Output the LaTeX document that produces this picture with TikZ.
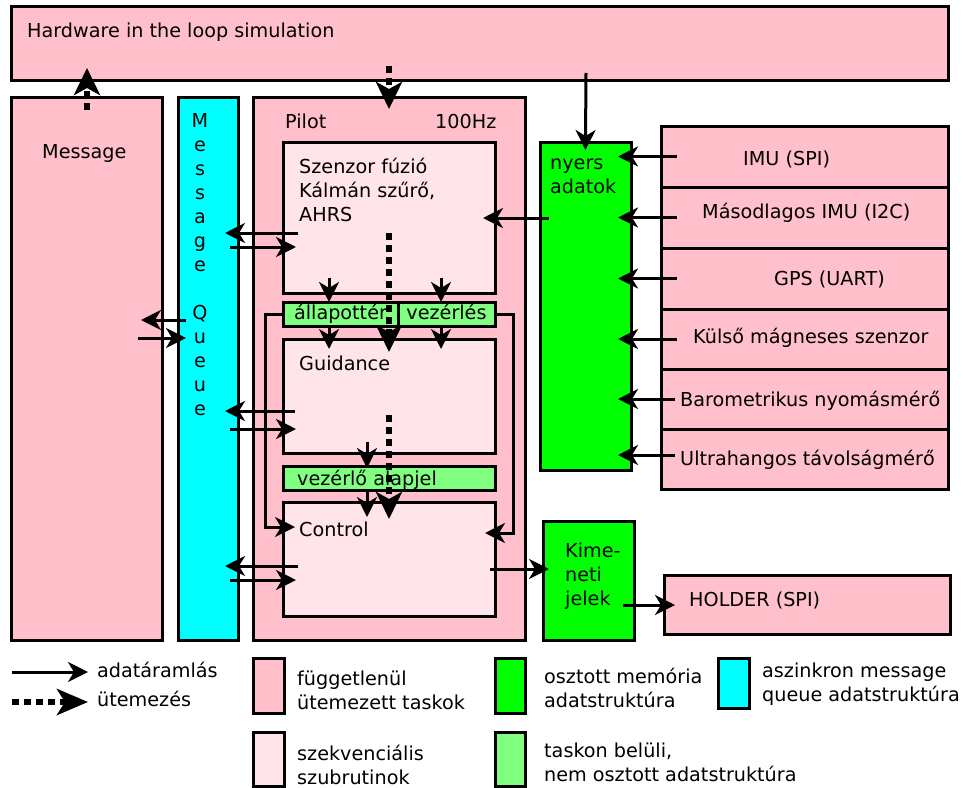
\documentclass[tikz,border=0pt]{standalone}
\usepackage{fontspec}
\setmainfont{DejaVu Sans}
\usetikzlibrary{arrows.meta,calc}
\definecolor{taskpink}{HTML}{FFC0CB}
\definecolor{subpink}{HTML}{FFE4E9}
\definecolor{shmgreen}{HTML}{00FF00}
\definecolor{locgreen}{HTML}{80FF80}
\definecolor{queuecyan}{HTML}{00FFFF}

\begin{document}
\begin{tikzpicture}[x=1pt, y=-1pt,
  font=\fontsize{19.2}{24}\selectfont,
  box/.style={rectangle, draw, line width=3pt, fill=#1, inner sep=0pt, outer sep=0pt},
  strip/.style={box=locgreen, text height=14pt, text depth=4pt},
  txt/.style={anchor=base west, inner sep=0pt, align=left},
  flow/.style={-{Stealth[length=20pt, width=20pt, inset=6pt]}, line width=3pt, shorten >=-10pt},
  sched/.style={-{Stealth[length=27pt, width=26pt, inset=7pt]}, line width=6pt, dash pattern=on 7pt off 5pt, shorten >=-12pt}
]
  \useasboundingbox (0,0) rectangle (963,787);

  % tasks and data
  \node[box=taskpink, minimum width=937pt, minimum height=74pt] (hil) at (479.5,43) {};
  \node[box=taskpink, minimum width=151pt, minimum height=543pt] (msg) at (86.5,368.5) {};
  \node[box=queuecyan, minimum width=60pt, minimum height=543pt] (queue) at (208,368.5) {};
  \node[box=taskpink, minimum width=272pt, minimum height=543pt] (pilot) at (389,368.5) {};
  \node[box=subpink, minimum width=212pt, minimum height=151pt] (fusion) at (389,217.5) {};
  \node[strip, minimum width=115pt, minimum height=24pt] (state) at (340.5,314) {állapottér};
  \node[strip, minimum width=97pt, minimum height=24pt] (cmd) at (446.5,314) {vezérlés};
  \node[box=subpink, minimum width=212pt, minimum height=114pt] (guid) at (389,396) {};
  \node[box=locgreen, minimum width=212pt, minimum height=24pt] (setp) at (389,478) {};
  \node[box=subpink, minimum width=212pt, minimum height=114pt] (ctrl) at (389,559) {};
  \node[box=shmgreen, minimum width=91pt, minimum height=328pt] (raw) at (585.5,306) {};
  \node[box=shmgreen, minimum width=91pt, minimum height=119pt] (out) at (588.5,580.5) {};

  % sensors
  \node[box=taskpink, minimum width=287pt, minimum height=61pt] (imu) at (804.5,156.5) {};
  \node[box=taskpink, minimum width=287pt, minimum height=61pt] (imu2) at (804.5,217.5) {};
  \node[box=taskpink, minimum width=287pt, minimum height=61pt] (gps) at (804.5,278.5) {};
  \node[box=taskpink, minimum width=287pt, minimum height=60pt] (mag) at (804.5,339) {};
  \node[box=taskpink, minimum width=287pt, minimum height=60pt] (baro) at (804.5,399) {};
  \node[box=taskpink, minimum width=287pt, minimum height=60pt] (sonar) at (804.5,459) {};
  \node[box=taskpink, minimum width=286pt, minimum height=59pt] (holder) at (807,604.5) {};

  % legend
  \node[box=taskpink, minimum width=31pt, minimum height=55pt] (lg-task) at (268.5,685.5) {};
  \node[box=subpink, minimum width=31pt, minimum height=54pt] (lg-sub) at (268.5,759) {};
  \node[box=shmgreen, minimum width=30pt, minimum height=55pt] (lg-shm) at (510,685.5) {};
  \node[box=locgreen, minimum width=30pt, minimum height=54pt] (lg-loc) at (510,759) {};
  \node[box=queuecyan, minimum width=31pt, minimum height=50pt] (lg-queue) at (733.5,683) {};

  % texts (base = last line)
  \node[txt] (t-hil) at (27,37) {Hardware in the loop simulation};
  \node[txt] (t-msg) at (42,158) {Message};
  \node[anchor=base, inner sep=0pt, align=center] (t-queue) at (200,415) {M\\e\\s\\s\\a\\g\\e\\[24pt]Q\\u\\e\\u\\e};
  \node[txt] (t-pilot) at (285,128) {Pilot};
  \node[txt] (t-rate) at (435,128) {100Hz};
  \node[txt] (t-fusion) at (299,221) {Szenzor fúzió\\Kálmán szűrő,\\AHRS};
  \node[txt] (t-guid) at (299,370) {Guidance};
  \node[txt] (t-setp) at (297,485) {vezérlő alapjel};
  \node[txt] (t-ctrl) at (299,536) {Control};
  \node[txt] (t-raw) at (550,193) {nyers\\adatok};
  \node[txt] (t-out) at (565,605) {Kime-\\neti\\jelek};
  \node[txt] (t-imu) at (743,165) {IMU (SPI)};
  \node[txt] (t-imu2) at (702,218) {Másodlagos IMU (I2C)};
  \node[txt] (t-gps) at (774,285) {GPS (UART)};
  \node[txt] (t-mag) at (693,343) {Külső mágneses szenzor};
  \node[txt] (t-baro) at (680,406) {Barometrikus nyomásmérő};
  \node[txt] (t-sonar) at (680,465) {Ultrahangos távolságmérő};
  \node[txt] (t-holder) at (689,606) {HOLDER (SPI)};
  \node[txt] (t-flow) at (97,677) {adatáramlás};
  \node[txt] (t-sched) at (97,706) {ütemezés};
  \node[txt] (t-task) at (297,709) {függetlenül\\ütemezett taskok};
  \node[txt] (t-sub) at (297,784) {szekvenciális\\szubrutinok};
  \node[txt] (t-shm) at (544,707) {osztott memória\\adatstruktúra};
  \node[txt] (t-queue2) at (762,701) {aszinkron message\\queue adatstruktúra};
  \node[txt] (t-loc) at (544,781) {taskon belüli,\\nem osztott adatstruktúra};

  % free ends
  \coordinate (s-raw) at (586,73);
  \coordinate (s-pilot) at (389,66);
  \coordinate (s-msg) at (87,110);
  \coordinate (q-l) at (186,320);
  \coordinate (q-r) at (138,338);
  \coordinate (f-l) at (298,233);
  \coordinate (f-r) at (230,247);
  \coordinate (g-l) at (295,411);
  \coordinate (g-r) at (230,429);
  \coordinate (c-l) at (298,566);
  \coordinate (c-r) at (230,580);
  \coordinate (r-f) at (549,218);
  \coordinate (fs-a) at (329,278);
  \coordinate (fs-b) at (441,278);
  \coordinate (gs) at (367,442);
  \coordinate (d-1) at (389,233);
  \coordinate (d-2) at (389,415);
  \coordinate (lp-l) at (265,527);
  \coordinate (lp-r) at (513,533);
  \coordinate (c-o) at (490,569);
  \coordinate (o-h) at (623,605);
  \coordinate (l-flow) at (12,672);
  \coordinate (l-flow2) at (88,672);
  \coordinate (l-sched) at (12,702);
  \coordinate (l-sched2) at (88,702);

  % scheduling
  \draw[sched] (s-pilot) -- (pilot.north);
  \draw[sched] (s-msg) -- (s-msg |- hil.south);
  \draw[sched, shorten >=-13pt] (d-1) -- (guid.north -| d-1);
  \draw[sched, shorten >=-17pt] (d-2) -- (ctrl.north -| d-2);

  % data flow
  \draw[flow, shorten >=-8pt] (s-raw) -- (raw.north);
  \draw[flow, shorten >=-21pt] (q-l) -- (msg.east |- q-l);
  \draw[flow, shorten >=-8pt] (q-r) -- (queue.west |- q-r);
  \draw[flow, shorten >=-13pt] (f-l) -- (queue.east |- f-l);
  \draw[flow, shorten >=-13pt] (f-r) -- (fusion.west |- f-r);
  \draw[flow, shorten >=-13pt] (g-l) -- (queue.east |- g-l);
  \draw[flow, shorten >=-13pt] (g-r) -- (guid.west |- g-r);
  \draw[flow, shorten >=-13pt] (c-l) -- (queue.east |- c-l);
  \draw[flow, shorten >=-13pt] (c-r) -- (ctrl.west |- c-r);
  \draw[flow, shorten >=-12pt] (r-f) -- (fusion.east |- r-f);
  \draw[flow, shorten >=-13pt] ([xshift=16pt]imu.west) -- (raw.east |- imu.west);
  \draw[flow, shorten >=-13pt] ([xshift=16pt]imu2.west) -- (raw.east |- imu2.west);
  \draw[flow, shorten >=-13pt] ([xshift=16pt]gps.west) -- (raw.east |- gps.west);
  \draw[flow, shorten >=-13pt] ([xshift=16pt]mag.west) -- (raw.east |- mag.west);
  \draw[flow, shorten >=-13pt] ([xshift=14pt]baro.west) -- (raw.east |- baro.west);
  \draw[flow, shorten >=-13pt] ([xshift=14pt,yshift=4pt]sonar.west) -- ([yshift=4pt]raw.east |- sonar.west);
  \draw[flow, shorten >=0pt] (fs-a) -- (state.north -| fs-a);
  \draw[flow, shorten >=0pt] (fs-b) -- (cmd.north -| fs-b);
  \draw[flow] (state.south -| fs-a) -- (guid.north -| fs-a);
  \draw[flow] (cmd.south -| fs-b) -- (guid.north -| fs-b);
  \draw[flow, shorten >=-2pt] (gs) -- (setp.north -| gs);
  \draw[flow, shorten >=-15pt] (setp.south -| gs) -- (ctrl.north -| gs);
  \draw[flow, shorten >=-12pt] (state.west) -| (lp-l) -- (ctrl.west |- lp-l);
  \draw[flow] (cmd.east) -| (lp-r) -- (ctrl.east |- lp-r);
  \draw[flow, shorten >=-6pt] (c-o) -- (out.west |- c-o);
  \draw[flow, shorten >=-11pt] (o-h) -- (holder.west |- o-h);

  % legend arrows
  \draw[flow, shorten >=0pt] (l-flow) -- (l-flow2);
  \draw[sched, shorten >=0pt, -{Stealth[length=31pt, width=26pt, inset=8pt]}] (l-sched) -- (l-sched2);
\end{tikzpicture}
\end{document}
